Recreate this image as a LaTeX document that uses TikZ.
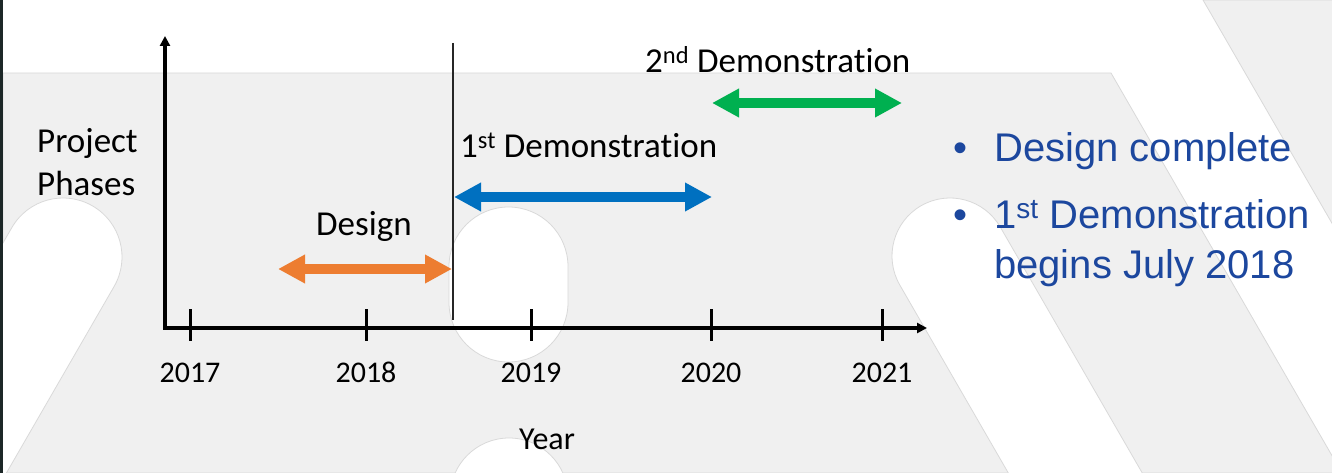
\documentclass[tikz,border=0pt]{standalone}
\usepackage{fontspec}
\setmainfont{Carlito}[Ligatures=NoCommon]
\newfontfamily\bulletfont{Liberation Sans}
\usepackage{tikz}
\usetikzlibrary{arrows.meta,positioning}
\definecolor{groundgrey}{HTML}{F0F0F0}
\definecolor{slotedge}{HTML}{D9D9D9}
\definecolor{frameslate}{HTML}{1C2727}
\definecolor{designorange}{HTML}{ED7D31}
\definecolor{demoblue}{HTML}{0070C0}
\definecolor{demogreen}{HTML}{00B050}
\definecolor{markgrey}{HTML}{262626}
\definecolor{notesblue}{HTML}{1C479E}
\tikzset{
  ground/.style={fill=groundgrey, draw=slotedge, line width=0.8pt},
  slot/.style={fill=white, draw=slotedge, line width=0.8pt},
  axis/.style={line width=3.4pt, {Triangle[length=10pt,width=10pt]}-{Triangle[length=10pt,width=10pt]}},
  yeartick/.style={line width=3pt},
  phase/.style={line width=9.5pt, {Triangle[length=27pt,width=27pt]}-{Triangle[length=27pt,width=27pt]}},
  lbl/.style={anchor=base west, inner sep=0pt, font=\fontsize{35}{42}\selectfont},
  yearlbl/.style={anchor=base, inner sep=0pt, font=\fontsize{30}{36}\selectfont},
  note/.style={anchor=base west, inner sep=0pt, text=notesblue, font=\bulletfont\fontsize{40}{48}\selectfont}
}
\begin{document}
\begin{tikzpicture}[x=1pt, y=-1pt]
  \useasboundingbox (0,0) rectangle (1332,473);
  % backdrop
  \begin{scope}
    \clip (0,0) rectangle (1332,473);
    \fill[white] (0,0) rectangle (1332,473);
    \path[ground] (3,73) -- (1111,73) -- (1342,473) -- (3,473) -- cycle;
    \path[ground] (1203,0) -- (1400,0) -- (1400,341) -- cycle;
    \begin{scope}[shift={(63,257)}, rotate=-30]
      \path[slot] (-59,400) -- (-59,0) arc[start angle=180, end angle=360, radius=59] -- (59,400) -- cycle;
    \end{scope}
    \begin{scope}[shift={(950,256)}, rotate=30]
      \path[slot] (-58,400) -- (-58,0) arc[start angle=180, end angle=360, radius=58] -- (58,400) -- cycle;
    \end{scope}
    \begin{scope}[shift={(508.5,266.5)}]
      \path[slot] (-59.5,36) -- (-59.5,0) arc[start angle=180, end angle=360, radius=59.5]
        -- (59.5,36) arc[start angle=0, end angle=180, radius=59.5] -- cycle;
    \end{scope}
    \begin{scope}[shift={(509,497)}]
      \path[slot] (-59,100) -- (-59,0) arc[start angle=180, end angle=360, radius=59] -- (59,100) -- cycle;
    \end{scope}
    \fill[frameslate] (0,0) rectangle (3,473);
  \end{scope}

  % axes
  \coordinate (ytip) at (165,36);
  \coordinate (origin) at (165,328);
  \coordinate (xtip) at (927,328);
  \draw[axis] (ytip) -- (origin) -- (xtip);
  \foreach \x/\yr in {190/2017, 366/2018, 531/2019, 711/2020, 882/2021} {
    \draw[yeartick] (\x,309) -- (\x,341);
    \node[yearlbl] (yr\yr) at (\x,382) {\yr};
  }
  \node[lbl, font=\fontsize{32}{38}\selectfont] (year) at (519,449) {Year};
  \node[lbl] (project) at (37,153) {Project};
  \node[lbl, below=43pt of project.base west, anchor=base west] (phases) {Phases};

  % July 2018 marker
  \coordinate (marktop) at (453,43);
  \coordinate (markbot) at (453,320);
  \draw[markgrey, line width=1.5pt] (marktop) -- (markbot);

  % phases
  \coordinate (designL) at (278,269);
  \coordinate (designR) at (452,269);
  \coordinate (demooneL) at (454,197);
  \coordinate (demooneR) at (712,197);
  \coordinate (demotwoL) at (712,103);
  \coordinate (demotwoR) at (902,103);
  \draw[phase, designorange] (designL) -- (designR);
  \draw[phase, demoblue] (demooneL) -- (demooneR);
  \draw[phase, demogreen] (demotwoL) -- (demotwoR);
  \node[lbl] (design) at (316,235) {Design};
  \node[lbl] (demoone) at (460,158) {1\textsuperscript{st} Demonstration};
  \node[lbl] (demotwo) at (645,73) {2\textsuperscript{nd} Demonstration};

  % notes
  \node[note, anchor=base] (dotone) at (960,162) {•};
  \node[note] (done) at (994,162) {Design complete};
  \node[note, anchor=base] (dottwo) at (960,228) {•};
  \node[note] (begins) at (994,228) {1\textsuperscript{st} Demonstration};
  \node[note, below=50pt of begins.base west, anchor=base west] (july) {begins July 2018};
\end{tikzpicture}
\end{document}
